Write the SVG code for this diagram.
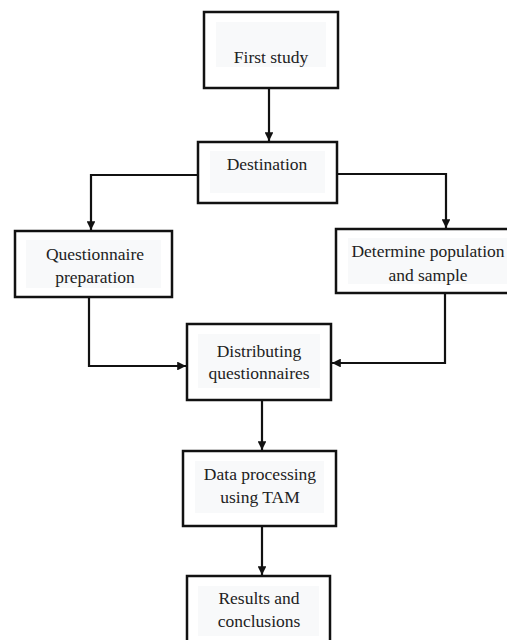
<svg xmlns="http://www.w3.org/2000/svg" width="507" height="640" viewBox="0 0 507 640">
<defs>
<style>
.box{fill:#fff;stroke:#111;stroke-width:2.5}
.pad{fill:#f8f9fa}
.t{font-family:'Liberation Serif',Tinos,Times,'DejaVu Serif',serif;font-size:17.5px;fill:#222;text-anchor:middle}
.c{fill:none;stroke:#111;stroke-width:2.2}
</style>
<marker id="ah" viewBox="0 0 10 10" refX="10" refY="5" markerWidth="4" markerHeight="4" orient="auto" markerUnits="strokeWidth">
<path d="M0,0 L10,5 L0,10 Z" fill="#111"/>
</marker>
</defs>
<rect width="507" height="640" fill="#fff"/>
<g id="connectors">
<path class="c" d="M269,88 V141" marker-end="url(#ah)"/>
<path class="c" d="M198,175 H91 V230" marker-end="url(#ah)"/>
<path class="c" d="M337,174 H446 V228" marker-end="url(#ah)"/>
<path class="c" d="M89,297 V366 H186" marker-end="url(#ah)"/>
<path class="c" d="M445,293 V363 H332" marker-end="url(#ah)"/>
<path class="c" d="M262,400 V450" marker-end="url(#ah)"/>
<path class="c" d="M262,526 V575" marker-end="url(#ah)"/>
</g>
<g id="first-study">
<rect class="box" x="204" y="12" width="134" height="76"/>
<rect class="pad" x="216" y="22" width="110" height="45"/>
<text class="t" x="271" y="63" font-family="Liberation Serif, serif">First study</text>
</g>
<g id="destination">
<rect class="box" x="198" y="142" width="139" height="61"/>
<rect class="pad" x="210" y="151" width="115" height="42"/>
<text class="t" x="267" y="170">Destination</text>
</g>
<g id="questionnaire-preparation">
<rect class="box" x="15" y="231" width="157" height="66"/>
<rect class="pad" x="26" y="240" width="135" height="48"/>
<text class="t" x="95" y="260">Questionnaire</text>
<text class="t" x="95" y="283">preparation</text>
</g>
<g id="determine-population">
<rect class="box" x="336" y="229" width="175" height="64"/>
<rect class="pad" x="348" y="238" width="159" height="46"/>
<text class="t" x="428" y="257">Determine population</text>
<text class="t" x="428" y="281">and sample</text>
</g>
<g id="distributing-questionnaires">
<rect class="box" x="187" y="324" width="144" height="76"/>
<rect class="pad" x="198" y="334" width="122" height="54"/>
<text class="t" x="259" y="357">Distributing</text>
<text class="t" x="259" y="379">questionnaires</text>
</g>
<g id="data-processing">
<rect class="box" x="183" y="451" width="153" height="75"/>
<rect class="pad" x="195" y="461" width="129" height="52"/>
<text class="t" x="260" y="480">Data processing</text>
<text class="t" x="260" y="503">using TAM</text>
</g>
<g id="results">
<rect class="box" x="187" y="576" width="143" height="70"/>
<rect class="pad" x="198" y="586" width="121" height="50"/>
<text class="t" x="259" y="604">Results and</text>
<text class="t" x="259" y="627">conclusions</text>
</g>
</svg>
